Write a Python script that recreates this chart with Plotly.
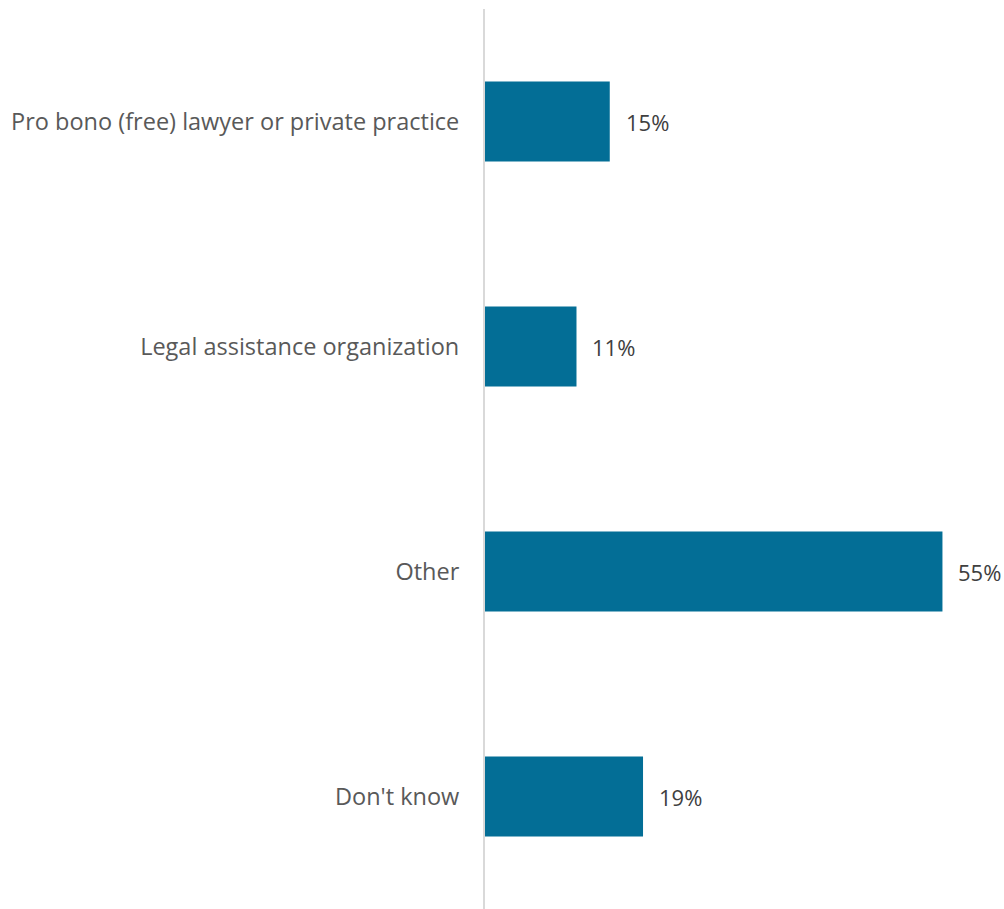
import plotly.graph_objects as go

categories = [
    "Pro bono (free) lawyer or private practice",
    "Legal assistance organization",
    "Other",
    "Don't know",
]
values = [15, 11, 55, 19]

BAR_COLOR = "#036E96"
FONT = "Open Sans"

fig = go.Figure(
    go.Bar(
        x=values,
        y=categories,
        orientation="h",
        marker=dict(color=BAR_COLOR, line=dict(width=0)),
        hoverinfo="skip",
    )
)

for cat, val in zip(categories, values):
    fig.add_annotation(
        x=val,
        y=cat,
        text=f"{val}%",
        showarrow=False,
        xanchor="left",
        xshift=14,
        font=dict(family=FONT, size=22, color="#404040"),
    )

fig.update_layout(
    width=1004,
    height=909,
    margin=dict(l=485, r=0, t=9, b=0),
    paper_bgcolor="white",
    plot_bgcolor="white",
    bargap=0.645,
    showlegend=False,
    font=dict(family=FONT, size=23, color="#595959"),
)

fig.update_xaxes(
    range=[0, 62.4],
    showgrid=False,
    zeroline=False,
    showticklabels=False,
    showline=False,
    fixedrange=True,
)

fig.update_yaxes(
    categoryorder="array",
    categoryarray=categories[::-1],
    showgrid=False,
    zeroline=False,
    showline=True,
    linecolor="#D9D9D9",
    linewidth=2,
    ticks="",
    ticklabelstandoff=19,
    tickfont=dict(family=FONT, size=23.5, color="#595959"),
    fixedrange=True,
)

fig.write_html("out.html")
